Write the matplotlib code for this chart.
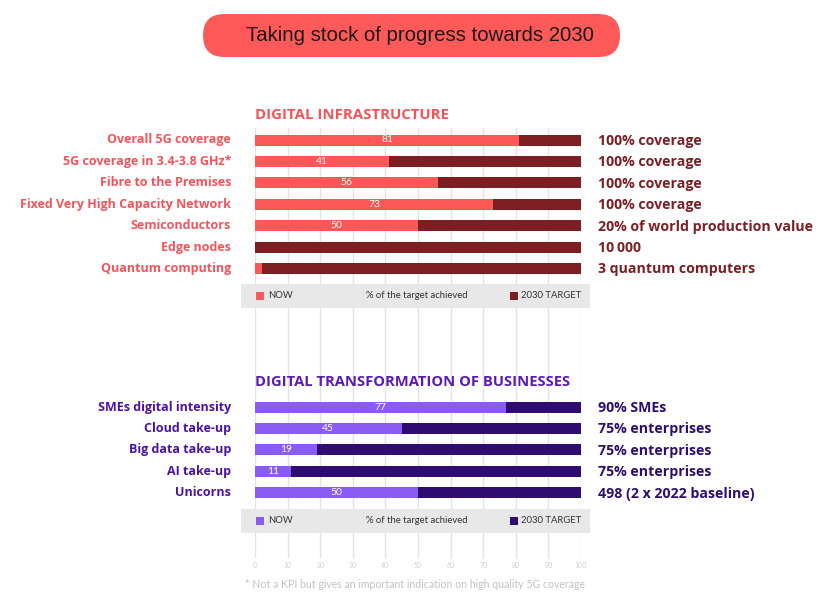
import matplotlib.pyplot as plt
from matplotlib.patches import FancyBboxPatch, Rectangle

# --- data ---
infra_labels = ["Overall 5G coverage", "5G coverage in 3.4-3.8 GHz*", "Fibre to the Premises",
                "Fixed Very High Capacity Network", "Semiconductors", "Edge nodes", "Quantum computing"]
infra_now = [81, 41, 56, 73, 50, 0, 2]
infra_targets = ["100% coverage", "100% coverage", "100% coverage", "100% coverage",
                 "20% of world production value", "10\u2009000", "3 quantum computers"]

biz_labels = ["SMEs digital intensity", "Cloud take-up", "Big data take-up", "AI take-up", "Unicorns"]
biz_now = [77, 45, 19, 11, 50]
biz_targets = ["90% SMEs", "75% enterprises", "75% enterprises", "75% enterprises",
               "498 (2 x 2022 baseline)"]

ticks = list(range(0, 101, 10))

W, H = 832, 607
fig = plt.figure(figsize=(W / 100, H / 100), dpi=100)

# background axes in pixel units (title pill)
bg = fig.add_axes([0, 0, 1, 1])
bg.set_xlim(0, W)
bg.set_ylim(H, 0)
bg.axis("off")
pill = FancyBboxPatch((203, 14), 417, 43, boxstyle="round,pad=0,rounding_size=21.5",
                      fc="#ff5a5a", ec="none")
bg.add_patch(pill)
bg.text(420, 35.5, "Taking stock of progress towards 2030", ha="center", va="center",
        fontsize=14.7, family="Liberation Sans", color="#1a1a1a")

# chart axes: x in % of target, y in pixel rows
x0, x1 = 255, 581
ax = fig.add_axes([x0 / W, 0, (x1 - x0) / W, 1], zorder=2)
ax.set_xlim(0, 100)
ax.set_ylim(H, 0)
ax.axis("off")

for t in ticks:
    ax.plot([t, t], [128, 557], color="#e3e3e3", lw=1, zorder=0)
    ax.text(t, 565, str(t), ha="center", va="center", fontsize=5, color="#d0d0d0",
            family="Lato")

px = 100 / (x1 - x0)   # data units per pixel
bar_h = 11
row = 21.4
fam = ["Open Sans", "DejaVu Sans"]


def section(labels, now, targets, top, c_now, c_tgt, c_left, c_right, c_head, header,
            head_size, leg_y):
    ax.text(0, top - 25, header, ha="left", va="center", fontsize=head_size,
            fontweight="bold", color=c_head, family=fam)
    ys = [top + i * row for i in range(len(labels))]
    ax.barh(ys, [100] * len(ys), height=bar_h, color=c_tgt, zorder=2)
    ax.barh(ys, now, height=bar_h, color=c_now, zorder=3)
    for y, lab, v, tg in zip(ys, labels, now, targets):
        ax.text(-24 * px, y, lab, ha="right", va="center", fontsize=9, fontweight="bold",
                color=c_left, family=fam, clip_on=False)
        ax.text(100 + 17 * px, y + 1, tg, ha="left", va="center", fontsize=10.2,
                fontweight="bold", color=c_right, family=fam, clip_on=False)
        if v >= 10:
            ax.text(v / 2, y, str(v), ha="center", va="center", fontsize=7.5, color="white",
                    family="Lato", zorder=4)
    # legend band
    ax.add_patch(Rectangle((-14 * px, leg_y - 12), 349 * px, 24, fc="#e8e8e8", ec="none",
                           zorder=1, clip_on=False))
    ax.add_patch(Rectangle((0.2, leg_y - 4), 8 * px, 8, fc=c_now, ec="none", zorder=3))
    ax.text(4.0, leg_y, "NOW", ha="left", va="center", fontsize=6.8, color="#333333",
            family="Lato", zorder=3)
    ax.text(49.5, leg_y, "% of the target achieved", ha="center", va="center", fontsize=6.8,
            color="#333333", family="Lato", zorder=3)
    ax.add_patch(Rectangle((78.2, leg_y - 4), 8 * px, 8, fc=c_tgt, ec="none", zorder=3))
    ax.text(81.5, leg_y, "2030 TARGET", ha="left", va="center", fontsize=6.8,
            color="#333333", family="Lato", zorder=3)


section(infra_labels, infra_now, infra_targets, 140, "#ff5757", "#7d1f22", "#f2545b",
        "#7a1f24", "#f0555a", "DIGITAL INFRASTRUCTURE", 10.8, 296)
section(biz_labels, biz_now, biz_targets, 407, "#8a5cf5", "#2f0c70", "#4b12a6",
        "#2e0e6e", "#5b1ab0", "DIGITAL TRANSFORMATION OF BUSINESSES", 10.6, 520.5)

bg.text(415, 584, "* Not a KPI but gives an important indication on high quality 5G coverage",
        ha="center", va="center", fontsize=7.6, color="#c2c2c2", family="Lato")

fig.savefig("out.png", dpi=100)
